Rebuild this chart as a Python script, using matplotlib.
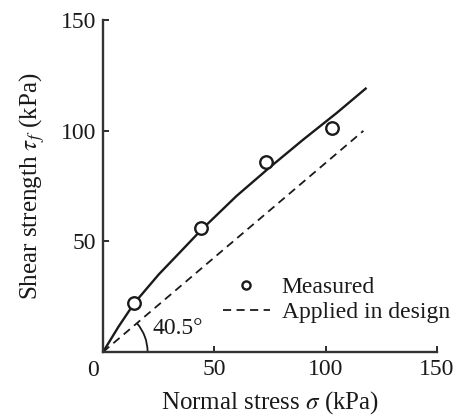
import numpy as np
import matplotlib
matplotlib.use("Agg")
import matplotlib.pyplot as plt
from matplotlib.patches import Arc

plt.rcParams['font.family'] = ['Liberation Serif', 'DejaVu Serif']
plt.rcParams['mathtext.fontset'] = 'stix'

# measured points
sigma_meas = [14, 44, 73, 103]
tau_meas = [22, 56, 86, 101]

# fitted strength curve
sigma_fit = [0, 7, 14, 25, 35, 44, 60, 75, 90, 105, 118]
tau_fit = [0, 11.5, 22, 35, 45.5, 55, 70.5, 83.5, 96, 108, 119]

# design line, friction angle 40.5 deg
phi_design = 40.5
sigma_design = [0, 117]

ink = '#1a1a1a'

fig = plt.figure(figsize=(4.56, 4.17), dpi=100)
ax = fig.add_axes([0.226, 0.156, 0.732, 0.796])

ax.plot(sigma_fit, tau_fit, color=ink, lw=1.7, solid_joinstyle='round')
ax.plot(sigma_meas, tau_meas, 'o', mfc='white', mec=ink, mew=1.7, ms=9,
        label='Measured')
tau_design = [s * np.tan(np.radians(phi_design)) for s in sigma_design]
ax.plot(sigma_design, tau_design, '--', color=ink, lw=1.3, dashes=(4.5, 3),
        label='Applied in design')

# angle marker
ax.add_patch(Arc((0, 0), 40, 40, theta1=0, theta2=phi_design, color=ink, lw=1.3))
ax.text(22, 10.5, '40.5°', fontsize=17, color=ink, va='center', ha='left')

ax.set_xlim(0, 150)
ax.set_ylim(0, 150)
ax.set_xticks([0, 50, 100, 150])
ax.set_xticklabels(['', '50', '100', '150'])
ax.set_yticks([0, 50, 100, 150])
ax.set_yticklabels(['', '50', '100', '150'])
ax.annotate('0', xy=(0, 0), xytext=(-7, -13), textcoords='offset points',
            fontsize=17, color=ink, ha='center', va='center')
ax.tick_params(direction='in', length=4, width=1.3, labelsize=17,
               colors=ink, pad=5)
for side in ['top', 'right']:
    ax.spines[side].set_visible(False)
for side in ['left', 'bottom']:
    ax.spines[side].set_linewidth(1.7)
    ax.spines[side].set_color('#333333')

ax.set_xlabel(r'Normal stress $\sigma$ (kPa)', fontsize=18, color=ink, labelpad=7)
ax.set_ylabel(r'Shear strength $\tau_f$ (kPa)', fontsize=18, color=ink, labelpad=10)

leg = ax.legend(loc='upper left', bbox_to_anchor=(0.33, 0.255), frameon=False,
                fontsize=17, handlelength=2.0, handletextpad=0.5,
                labelspacing=0.15, markerscale=0.65, borderaxespad=0)
for t in leg.get_texts():
    t.set_color(ink)

fig.savefig('out.png', dpi=100)
